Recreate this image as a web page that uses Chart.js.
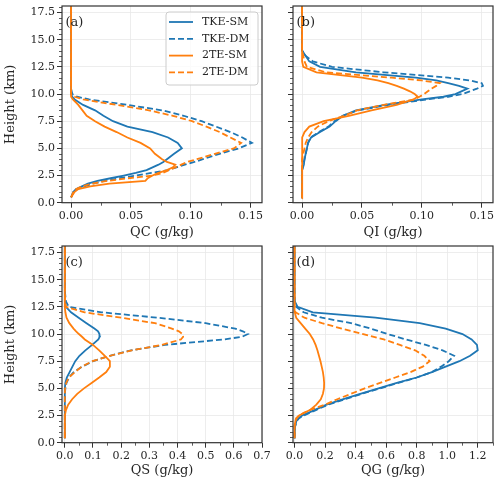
<!DOCTYPE html>
<html>
<head>
<meta charset="utf-8">
<script src="https://cdn.jsdelivr.net/npm/chart.js@4.4.1/dist/chart.umd.min.js"></script>
<style>
  body { margin: 0; background: #fff; }
  #wrap { position: relative; width: 500px; height: 485px; }
  canvas { position: absolute; }
</style>
</head>
<body>
<div id="wrap">
  <canvas id="qc" width="285" height="240" style="left:0;top:0"></canvas>
  <canvas id="qs" width="285" height="245" style="left:0;top:240px"></canvas>
  <canvas id="qi" width="235" height="240" style="left:265px;top:0"></canvas>
  <canvas id="qg" width="235" height="245" style="left:265px;top:240px"></canvas>
</div>
<script>
const seriesNames = ['TKE-SM', 'TKE-DM', '2TE-SM', '2TE-DM'];
const seriesColors = ['#1f77b4', '#1f77b4', '#ff7f0e', '#ff7f0e'];
const seriesDashed = [false, true, false, true];

// (a) cloud water
const hQC = [0.5, 1.0, 1.25, 1.5, 1.75, 2.0, 2.25, 2.5, 2.75, 3.0, 3.25, 3.5, 3.75, 4.0, 4.5, 5.0, 5.5, 6.0, 6.5, 7.0, 7.5, 8.0, 8.5, 9.0, 9.5, 9.75, 10.0, 10.5, 12.0, 14.0, 16.0, 18.5];
const qcTkeSm = [0, 0.002, 0.004, 0.009, 0.014, 0.022, 0.033, 0.044, 0.054, 0.063, 0.068, 0.073, 0.077, 0.080, 0.086, 0.0925, 0.089, 0.081, 0.068, 0.047, 0.035, 0.027, 0.020, 0.010, 0.003, 0.001, 0, 0, 0, 0, 0, 0];
const qcTkeDm = [0, 0.002, 0.005, 0.011, 0.018, 0.028, 0.040, 0.054, 0.067, 0.081, 0.088, 0.095, 0.103, 0.110, 0.124, 0.140, 0.151, 0.143, 0.133, 0.121, 0.109, 0.094, 0.076, 0.047, 0.015, 0.005, 0.001, 0, 0, 0, 0, 0];
const qcTeSm = [0, 0.003, 0.006, 0.016, 0.032, 0.062, 0.064, 0.068, 0.073, 0.080, 0.085, 0.087, 0.080, 0.076, 0.070, 0.066, 0.058, 0.047, 0.038, 0.028, 0.020, 0.013, 0.0095, 0.006, 0.0015, 0, 0, 0, 0, 0, 0, 0];
const qcTeDm = [0, 0.002, 0.004, 0.009, 0.017, 0.030, 0.048, 0.068, 0.077, 0.082, 0.087, 0.092, 0.097, 0.105, 0.120, 0.136, 0.142, 0.133, 0.124, 0.113, 0.101, 0.085, 0.065, 0.038, 0.010, 0.003, 0, 0, 0, 0, 0, 0];

// (b) cloud ice
const hQI = [0.4, 3.0, 3.5, 4.0, 4.5, 5.0, 5.5, 6.0, 6.5, 7.0, 7.5, 8.0, 8.5, 9.0, 9.5, 9.75, 10.0, 10.25, 10.5, 10.75, 11.0, 11.25, 11.5, 12.0, 12.5, 13.0, 13.5, 14.0, 16.0, 18.5];
const qiTkeSm = [0, 0, 0.0015, 0.002, 0.003, 0.004, 0.005, 0.0075, 0.015, 0.023, 0.028, 0.034, 0.045, 0.069, 0.100, 0.118, 0.128, 0.133, 0.138, 0.131, 0.122, 0.112, 0.095, 0.045, 0.015, 0.006, 0.003, 0, 0, 0];
const qiTkeDm = [0, 0, 0.001, 0.002, 0.003, 0.004, 0.005, 0.007, 0.014, 0.022, 0.027, 0.034, 0.047, 0.072, 0.104, 0.122, 0.134, 0.140, 0.146, 0.151, 0.150, 0.140, 0.122, 0.068, 0.025, 0.009, 0.003, 0, 0, 0];
const qiTeSm = [0, 0, 0, 0, 0, 0, 0, 0.0005, 0.002, 0.006, 0.018, 0.039, 0.058, 0.079, 0.093, 0.0965, 0.094, 0.090, 0.085, 0.079, 0.072, 0.063, 0.050, 0.012, 0.001, 0, 0, 0, 0, 0];
const qiTeDm = [0, 0, 0, 0, 0.001, 0.002, 0.003, 0.005, 0.008, 0.013, 0.022, 0.035, 0.046, 0.068, 0.094, 0.098, 0.102, 0.105, 0.108, 0.112, 0.115, 0.100, 0.075, 0.020, 0.004, 0.002, 0.001, 0, 0, 0];

// (c) snow
const hQS = [0.4, 2.5, 3.0, 3.5, 4.0, 4.5, 5.0, 5.5, 6.0, 6.5, 7.0, 7.5, 8.0, 8.5, 9.0, 9.5, 9.75, 10.0, 10.25, 10.5, 11.0, 11.5, 12.0, 12.5, 13.0, 14.0, 16.0, 18.5];
const qsTkeSm = [0, 0, 0, 0, 0, 0, 0, 0.002, 0.007, 0.017, 0.027, 0.037, 0.052, 0.073, 0.097, 0.119, 0.124, 0.123, 0.118, 0.105, 0.077, 0.049, 0.022, 0.004, 0, 0, 0, 0];
const qsTkeDm = [0, 0, 0, 0, 0, 0, 0.002, 0.006, 0.015, 0.032, 0.062, 0.100, 0.160, 0.235, 0.355, 0.565, 0.630, 0.650, 0.632, 0.605, 0.500, 0.330, 0.130, 0.014, 0.004, 0, 0, 0];
const qsTeSm = [0, 0, 0.004, 0.012, 0.026, 0.044, 0.068, 0.095, 0.122, 0.147, 0.160, 0.160, 0.142, 0.122, 0.100, 0.071, 0.061, 0.050, 0.040, 0.031, 0.016, 0.006, 0.002, 0, 0, 0, 0, 0];
const qsTeDm = [0, 0, 0, 0, 0, 0, 0.001, 0.005, 0.014, 0.036, 0.060, 0.098, 0.160, 0.238, 0.345, 0.412, 0.420, 0.418, 0.405, 0.380, 0.320, 0.200, 0.070, 0.004, 0.001, 0, 0, 0];

// (d) graupel
const hQG = [0.4, 1.5, 2.0, 2.25, 2.5, 2.75, 3.0, 3.5, 4.0, 4.5, 5.0, 5.5, 6.0, 6.5, 7.0, 7.5, 8.0, 8.5, 9.0, 9.5, 10.0, 10.5, 11.0, 11.5, 12.0, 12.5, 13.0, 14.0, 16.0, 18.5];
const qgTkeSm = [0, 0.004, 0.012, 0.025, 0.05, 0.09, 0.13, 0.21, 0.32, 0.43, 0.55, 0.67, 0.80, 0.90, 0.99, 1.08, 1.15, 1.20, 1.195, 1.16, 1.10, 0.99, 0.82, 0.53, 0.12, 0.02, 0.002, 0, 0, 0];
const qgTkeDm = [0, 0.004, 0.015, 0.03, 0.06, 0.10, 0.14, 0.22, 0.33, 0.44, 0.56, 0.68, 0.80, 0.90, 0.96, 1.01, 1.045, 0.97, 0.86, 0.73, 0.61, 0.50, 0.37, 0.18, 0.06, 0.012, 0.002, 0, 0, 0];
const qgTeSm = [0, 0, 0.006, 0.015, 0.03, 0.065, 0.10, 0.143, 0.172, 0.186, 0.193, 0.194, 0.191, 0.186, 0.178, 0.170, 0.160, 0.150, 0.138, 0.122, 0.100, 0.070, 0.040, 0.011, 0.002, 0, 0, 0, 0, 0];
const qgTeDm = [0, 0, 0.005, 0.01, 0.03, 0.06, 0.10, 0.20, 0.28, 0.37, 0.46, 0.56, 0.66, 0.76, 0.84, 0.885, 0.85, 0.79, 0.69, 0.585, 0.45, 0.31, 0.18, 0.065, 0.006, 0, 0, 0, 0, 0];

const heightTicks = [0, 17.5, 2.5];

Chart.defaults.font.family = '"DejaVu Serif", serif';
Chart.defaults.font.size = 11;
Chart.defaults.color = '#262626';

function minorVals(scale, step, major) {
  const out = [];
  for (let k = Math.ceil(scale.min / step - 1e-9); k * step <= scale.max + 1e-9; k++) {
    const v = k * step;
    const r = v / major;
    if (Math.abs(r - Math.round(r)) < 1e-6) continue;
    out.push(v);
  }
  return out;
}

// minor ticks, full frame, panel letter and legend
const deco = {
  id: 'deco',
  afterDatasetsDraw(chart, args, o) {
    const {ctx, chartArea: ca} = chart;
    const x = chart.scales.x, y = chart.scales.y;
    ctx.save();
    ctx.strokeStyle = '#333';
    ctx.lineWidth = 0.8;
    ctx.beginPath();
    minorVals(x, o.minorX, o.majorX).forEach(v => {
      const p = Math.round(x.getPixelForValue(v)) + 0.5;
      ctx.moveTo(p, ca.bottom);
      ctx.lineTo(p, ca.bottom + 3);
    });
    minorVals(y, 0.5, 2.5).forEach(v => {
      const p = Math.round(y.getPixelForValue(v)) + 0.5;
      ctx.moveTo(ca.left - 3, p);
      ctx.lineTo(ca.left, p);
    });
    ctx.stroke();

    ctx.lineWidth = 1.2;
    ctx.strokeRect(ca.left, ca.top, ca.right - ca.left, ca.bottom - ca.top);

    ctx.fillStyle = '#262626';
    ctx.font = '13px "DejaVu Serif"';
    ctx.textBaseline = 'middle';
    ctx.fillText(o.tag, ca.left + 3.5, ca.top + 17);

    if (o.legend) {
      const lx = ca.right - 96, ly = ca.top + 6, lw = 92, lh = 73;
      ctx.beginPath();
      if (ctx.roundRect) ctx.roundRect(lx, ly, lw, lh, 3); else ctx.rect(lx, ly, lw, lh);
      ctx.fillStyle = 'rgba(255,255,255,0.8)';
      ctx.fill();
      ctx.strokeStyle = '#cccccc';
      ctx.lineWidth = 1;
      ctx.stroke();
      ctx.font = '11px "DejaVu Serif"';
      chart.data.datasets.forEach((ds, i) => {
        const yy = ly + 10 + i * 16.8;
        ctx.strokeStyle = ds.borderColor;
        ctx.lineWidth = ds.borderWidth;
        ctx.setLineDash(ds.borderDash);
        ctx.beginPath();
        ctx.moveTo(lx + 3, yy);
        ctx.lineTo(lx + 27, yy);
        ctx.stroke();
        ctx.setLineDash([]);
        ctx.fillStyle = '#262626';
        ctx.fillText(ds.label, lx + 36, yy);
      });
    }
    ctx.restore();
  }
};

function panel(id, heights, cols, o) {
  const datasets = cols.map((vals, i) => ({
    label: seriesNames[i],
    data: heights.map((h, j) => ({x: vals[j], y: h})),
    borderColor: seriesColors[i],
    borderDash: seriesDashed[i] ? [6, 3] : [],
    borderWidth: 1.8,
    pointRadius: 0,
    tension: 0,
    order: cols.length - i
  }));
  const grid = {color: '#e8e8e8', lineWidth: 0.8, tickColor: '#333', tickLength: 5, tickWidth: 1};
  return new Chart(document.getElementById(id), {
    type: 'line',
    data: {datasets},
    options: {
      responsive: false,
      animation: false,
      indexAxis: 'y',
      layout: {padding: {top: 6, left: 0, right: o.padRight, bottom: 0}},
      plugins: {
        legend: {display: false},
        tooltip: {enabled: false},
        deco: {tag: o.tag, minorX: o.step / 2, majorX: o.step, legend: o.legend}
      },
      scales: {
        x: {
          type: 'linear', min: o.xmin, max: o.xmax,
          ticks: {stepSize: o.step, includeBounds: false, autoSkip: false, maxRotation: 0, padding: 2,
                  callback: v => v.toFixed(o.dec)},
          grid: grid,
          border: {display: false},
          title: {display: true, text: o.xlabel, font: {size: 13}, padding: {top: 0, bottom: o.titlePad}},
          afterFit: s => { s.height = o.xh; s.paddingLeft = 0; s.paddingRight = 0; }
        },
        y: {
          type: 'linear', min: 0, max: 18.1,
          ticks: {stepSize: heightTicks[2], includeBounds: false, autoSkip: false, padding: 2,
                  callback: v => o.ylabel ? v.toFixed(1) : ''},
          grid: grid,
          border: {display: false},
          title: {display: !!o.ylabel, text: o.ylabel, font: {size: 13}, padding: {top: 3, bottom: 0}},
          afterFit: s => { s.width = o.yw; s.paddingTop = 0; s.paddingBottom = 0; }
        }
      }
    },
    plugins: [deco]
  });
}

panel('qc', hQC, [qcTkeSm, qcTkeDm, qcTeSm, qcTeDm],
  {tag: '(a)', legend: true, xmin: -0.0076, xmax: 0.1594, step: 0.05, dec: 2, xlabel: 'QC (g/kg)',
   ylabel: 'Height (km)', yw: 62, padRight: 23, xh: 37.3, titlePad: 0});
panel('qi', hQI, [qiTkeSm, qiTkeDm, qiTeSm, qiTeDm],
  {tag: '(b)', legend: false, xmin: -0.0076, xmax: 0.1594, step: 0.05, dec: 2, xlabel: 'QI (g/kg)',
   ylabel: '', yw: 28, padRight: 7, xh: 37.3, titlePad: 0});
panel('qs', hQS, [qsTkeSm, qsTkeDm, qsTeSm, qsTeDm],
  {tag: '(c)', legend: false, xmin: -0.01, xmax: 0.7, step: 0.1, dec: 1, xlabel: 'QS (g/kg)',
   ylabel: 'Height (km)', yw: 62, padRight: 23, xh: 42.3, titlePad: 7});
panel('qg', hQG, [qgTkeSm, qgTkeDm, qgTeSm, qgTeDm],
  {tag: '(d)', legend: false, xmin: -0.01, xmax: 1.3, step: 0.2, dec: 1, xlabel: 'QG (g/kg)',
   ylabel: '', yw: 28, padRight: 7, xh: 42.3, titlePad: 7});
</script>
</body>
</html>
